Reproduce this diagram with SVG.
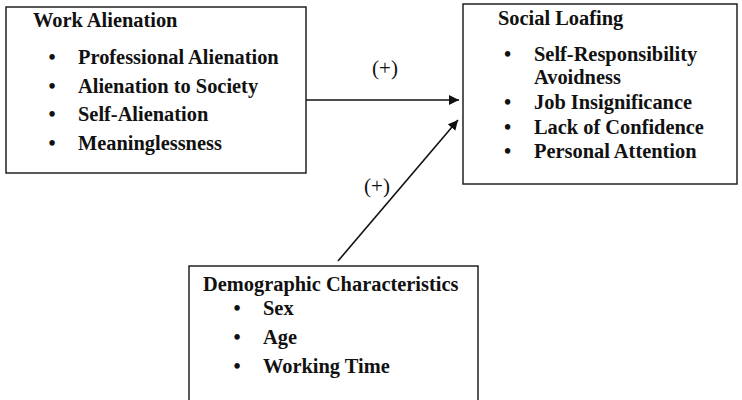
<svg xmlns="http://www.w3.org/2000/svg" width="742" height="400" viewBox="0 0 742 400">
<defs>
<style>
.box{fill:#fff;stroke:#222;stroke-width:1.5}
.t{font-family:"Liberation Serif","Times New Roman",serif;font-weight:bold;font-size:20.4px;fill:#111}
.lbl{font-family:"Liberation Serif","Times New Roman",serif;font-size:21px;fill:#111}
.conn{stroke:#111;stroke-width:1.6;fill:none}
</style>
<marker id="ah" viewBox="0 0 10 10" refX="10" refY="5" markerWidth="10" markerHeight="10" markerUnits="userSpaceOnUse" orient="auto">
<path d="M0,0 L10,5 L0,10 z" fill="#111"/>
</marker>
</defs>
<rect width="742" height="400" fill="#fff"/>
<g id="work-alienation">
<rect class="box" x="6" y="7" width="300" height="166"/>
<text class="t" x="33" y="27">Work Alienation</text>
<text class="t" x="48.5" y="64">•</text><text class="t" x="78" y="64">Professional Alienation</text>
<text class="t" x="48.5" y="92.5">•</text><text class="t" x="78" y="92.5">Alienation to Society</text>
<text class="t" x="48.5" y="121">•</text><text class="t" x="78" y="121">Self-Alienation</text>
<text class="t" x="48.5" y="149.5">•</text><text class="t" x="78" y="149.5">Meaninglessness</text>
</g>
<g id="social-loafing">
<rect class="box" x="463" y="4" width="274" height="180"/>
<text class="t" x="498" y="25">Social Loafing</text>
<text class="t" x="504" y="60.5">•</text><text class="t" x="534" y="60.5">Self-Responsibility</text>
<text class="t" x="534" y="83.5">Avoidness</text>
<text class="t" x="504" y="108.5">•</text><text class="t" x="534" y="108.5">Job Insignificance</text>
<text class="t" x="504" y="133.5">•</text><text class="t" x="534" y="133.5">Lack of Confidence</text>
<text class="t" x="504" y="158">•</text><text class="t" x="534" y="158">Personal Attention</text>
</g>
<g id="demographic">
<rect class="box" x="189" y="266" width="289" height="150"/>
<text class="t" x="203" y="291">Demographic Characteristics</text>
<text class="t" x="233.5" y="315">•</text><text class="t" x="263" y="315">Sex</text>
<text class="t" x="233.5" y="344">•</text><text class="t" x="263" y="344">Age</text>
<text class="t" x="233.5" y="373">•</text><text class="t" x="263" y="373">Working Time</text>
</g>
<g id="connectors">
<line class="conn" x1="306" y1="100" x2="459" y2="100" marker-end="url(#ah)"/>
<line class="conn" x1="338" y1="261" x2="458" y2="120" marker-end="url(#ah)"/>
<text class="lbl" x="385" y="75" text-anchor="middle">(+)</text>
<text class="lbl" x="377" y="193" text-anchor="middle">(+)</text>
</g>
</svg>
